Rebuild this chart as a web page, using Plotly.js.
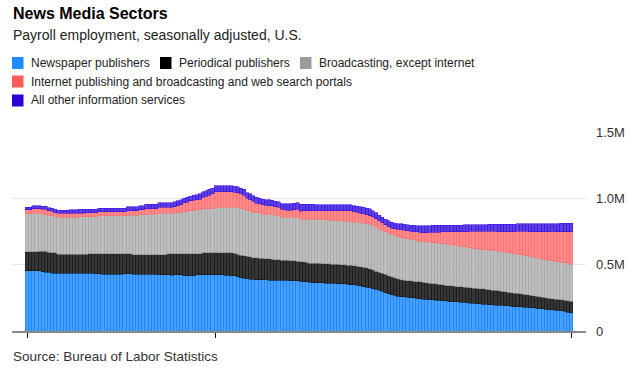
<!DOCTYPE html>
<html><head><meta charset="utf-8">
<script src="https://cdn.plot.ly/plotly-3.0.1.min.js"></script>
<style>html,body{margin:0;padding:0;background:#fff}#chart{width:630px;height:375px}</style>
</head><body><div id="chart"></div>
<script>
// Payroll employment, thousands, bimonthly bars (Jan 1990 onward)
const newspaper = [
455,455,455,454,453,445,443,443,436,435,
435,435,434,435,435,434,435,435,434,435,
435,434,433,432,428,428,428,427,428,428,
428,430,432,432,428,427,427,428,428,427,
427,426,424,423,423,423,422,423,423,423,
418,417,417,418,423,424,424,423,423,424,
423,423,423,422,421,418,417,408,402,398,
392,390,389,388,386,385,385,384,384,383,
383,382,381,381,380,380,378,375,372,370,
368,365,363,362,362,360,360,359,359,358,
356,355,352,350,347,344,340,335,330,325,
320,314,306,298,290,282,274,268,263,260,
258,255,252,250,247,244,241,238,236,234,
232,230,229,227,225,222,220,219,217,215,
213,211,209,207,205,203,200,199,198,196,
195,193,191,189,187,184,182,181,179,178,
176,174,171,169,167,164,162,160,157,155,
152,148,143,138];
const periodical = [
143,143,143,144,147,155,157,150,154,155,
144,144,145,144,144,145,144,144,145,144,
149,150,151,152,156,156,156,157,156,156,
156,154,152,150,148,149,149,148,148,149,
149,150,152,153,153,161,162,161,161,161,
166,167,167,166,161,160,167,168,168,167,
168,168,168,169,170,172,170,172,168,168,
172,170,165,163,162,162,161,160,157,155,
153,153,152,152,150,148,148,148,149,150,
143,145,146,147,146,147,146,146,146,146,
145,144,145,144,144,144,145,145,145,143,
140,138,137,137,137,136,136,134,130,125,
124,125,125,125,125,126,126,126,125,124,
123,122,120,119,118,118,118,116,116,116,
115,115,115,115,114,114,114,112,111,110,
107,106,104,103,102,102,101,98,97,95,
93,91,91,89,87,87,86,84,84,83,
82,83,84,86];
const broadcasting = [
285,285,290,290,288,281,281,278,278,274,
279,279,279,279,279,279,279,281,281,284,
279,279,279,284,284,284,284,284,284,284,
284,284,289,291,297,297,302,302,305,305,
305,305,310,310,310,302,302,309,309,309,
314,314,324,324,329,329,330,330,330,330,
340,340,340,340,340,341,344,351,353,357,
344,348,339,342,345,334,335,337,340,335,
337,323,325,325,328,330,332,320,322,323,
332,333,334,334,332,331,330,329,327,327,
329,329,328,328,329,331,333,334,333,336,
340,333,327,325,321,319,318,318,318,317,
316,314,313,311,310,308,307,307,308,309,
309,309,310,311,311,310,308,308,307,305,
304,302,301,299,298,296,297,298,298,298,
298,298,299,298,298,297,296,296,295,295,
293,292,290,289,287,285,285,285,285,284,
284,284,283,279];
const internet = [
30,30,33,33,33,37,37,36,36,28,
28,28,28,28,28,28,28,28,28,28,
28,28,28,30,30,30,30,30,30,30,
30,30,33,33,33,33,35,35,40,40,
40,40,45,45,45,45,45,45,52,60,
67,72,72,77,76,82,88,96,104,112,
118,118,118,118,118,118,116,113,110,100,
91,81,84,71,65,70,67,65,62,62,
58,58,56,54,54,56,58,60,62,63,
63,65,65,65,68,70,72,74,76,77,
78,79,81,84,80,75,70,68,68,66,
60,63,60,55,52,50,47,50,55,60,
61,62,63,64,65,66,68,71,74,77,
81,85,88,90,93,98,102,106,109,114,
118,123,126,131,135,139,141,143,144,147,
150,152,154,158,162,167,172,177,181,183,
188,193,198,202,209,214,217,222,224,227,
232,235,240,247];
const otherInfo = [
20,20,24,25,25,23,22,21,21,24,
25,26,26,26,27,27,27,28,28,28,
28,28,28,28,28,28,28,28,28,28,
29,29,30,30,31,32,33,33,34,34,
35,35,34,34,34,34,34,35,35,36,
36,37,37,38,39,40,41,42,43,44,
45,45,45,45,45,45,45,44,44,44,
44,44,44,44,44,43,42,42,42,42,
43,44,45,46,48,50,51,52,52,50,
48,46,45,45,45,45,45,45,45,45,
45,45,45,44,44,45,48,50,50,50,
48,45,42,42,42,43,44,44,44,45,
46,46,46,47,48,50,52,52,52,52,
51,51,50,50,50,50,50,50,50,50,
50,50,50,50,50,50,50,51,52,53,
54,55,56,56,57,56,56,56,56,57,
58,58,58,58,58,58,59,59,60,60,
61,61,62,63];
const seriesNames = ["Newspaper publishers","Periodical publishers","Broadcasting, except internet",
  "Internet publishing and broadcasting and web search portals","All other information services"];
const yTickVals = [0,500,1000,1500];
const yTickText = ["0","0.5M","1.0M","1.5M"];
const xTickVals = [0,60,173];

const seriesData = [newspaper, periodical, broadcasting, internet, otherInfo];
const legendColors = ["#1f8bff","#000000","#9b9b9b","#ff5c5c","#2a00d6"];
const fillColors = ["rgba(31,139,255,0.82)","rgba(10,10,10,0.82)","rgba(155,155,155,0.65)","rgba(255,92,92,0.72)","rgba(42,0,214,0.75)"];
const lineColors = ["#1a7ef0","#1a1a1a","#a9a9a9","#ff7575","#3a18e6"];
const FONT = "Liberation Sans, Arial, sans-serif";

const idx = newspaper.map((_, i) => i);
const traces = seriesData.map((vals, k) => ({
  type: "bar", x: idx, y: vals, name: seriesNames[k],
  marker: {color: fillColors[k], line: {color: lineColors[k], width: 0.6}},
  hoverinfo: "skip", showlegend: false
}));

const L = 12, T = 132, W = 574, H = 199;
const px = x => (x - L) / W;
const py = y => (T + H - y) / H;

const ann = [];
const shapes = [];
ann.push({xref:"paper", yref:"paper", x:px(11), y:py(13.5), xanchor:"left", yanchor:"middle", showarrow:false,
  text:"<b>News Media Sectors</b>", font:{family:FONT, size:16, color:"#000"}});
ann.push({xref:"paper", yref:"paper", x:px(11), y:py(34.5), xanchor:"left", yanchor:"middle", showarrow:false,
  text:"Payroll employment, seasonally adjusted, U.S.", font:{family:FONT, size:14, color:"#222"}});
ann.push({xref:"paper", yref:"paper", x:px(11), y:py(356.5), xanchor:"left", yanchor:"middle", showarrow:false,
  text:"Source: Bureau of Labor Statistics", font:{family:FONT, size:13.5, color:"#333"}});
const legPos = [[12,63,30],[160,63,178],[300,63,318],[12,81.5,30],[12,100.5,30]];
legPos.forEach((p, k) => {
  shapes.push({type:"rect", xref:"paper", yref:"paper", x0:px(p[0]), x1:px(p[0]+11.5), y0:py(p[1]+6), y1:py(p[1]-6),
    fillcolor: legendColors[k], line:{width:0}});
  ann.push({xref:"paper", yref:"paper", x:px(p[2]-1), y:py(p[1]), xanchor:"left", yanchor:"middle", showarrow:false,
    text: seriesNames[k], font:{family:FONT, size:12, color:"#222"}});
});

const layout = {
  width:630, height:375, margin:{l:L, r:630-L-W, t:T, b:375-T-H, pad:0},
  paper_bgcolor:"#fff", plot_bgcolor:"#fff",
  barmode:"stack", bargap:0, showlegend:false,
  font:{family:FONT, color:"#222"},
  xaxis:{range:[-4.77,177.77], tickvals:xTickVals, ticks:"outside", ticklen:5, tickwidth:1, tickcolor:"#111",
    showticklabels:false, showgrid:false, zeroline:false, showline:true, linecolor:"#888", linewidth:1.5, fixedrange:true},
  yaxis:{range:[0,1500], side:"right", tickvals:yTickVals, ticktext:yTickText, showgrid:true, gridcolor:"#e8e8e8", gridwidth:1,
    zeroline:false, showline:false, ticks:"", ticklabelstandoff:9, tickfont:{family:FONT, size:13, color:"#333"}, fixedrange:true},
  annotations: ann, shapes: shapes
};
Plotly.newPlot("chart", traces, layout, {displayModeBar:false, staticPlot:true});
</script>
</body></html>
